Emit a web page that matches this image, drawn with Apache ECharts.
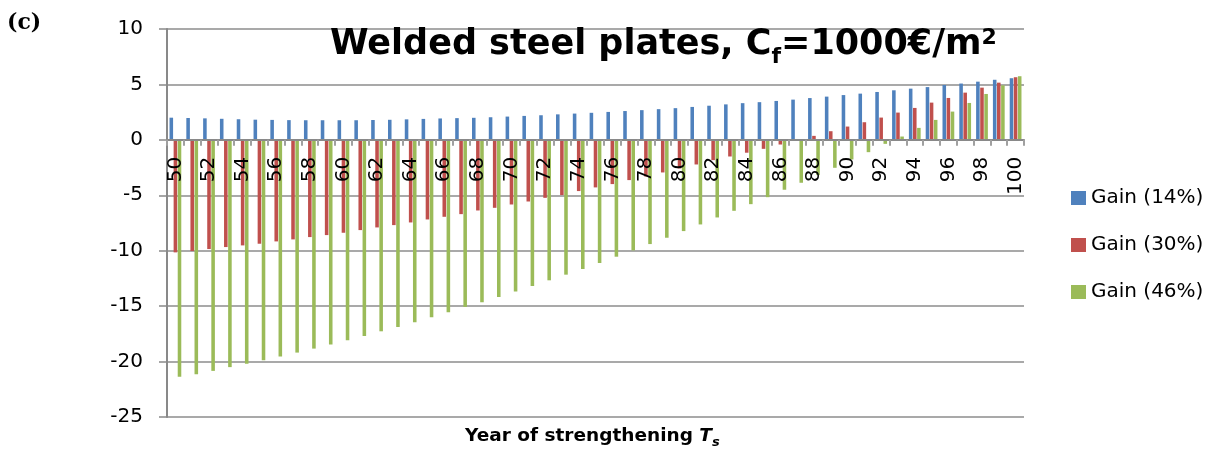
<!DOCTYPE html>
<html>
<head>
<meta charset="utf-8">
<script src="https://cdn.jsdelivr.net/npm/echarts@6/dist/echarts.min.js"></script>
<style>
html,body{margin:0;padding:0;background:#fff;}
#chart{width:1215px;height:457px;}
</style>
</head>
<body>
<div id="chart"></div>
<script>
const years = [];
for (let y = 50; y <= 100; y++) years.push(String(y));

const gain14 = [2.00,1.97,1.94,1.90,1.86,1.82,1.80,1.78,1.77,1.77,
  1.77,1.77,1.79,1.81,1.85,1.89,1.93,1.96,1.99,2.04,
  2.10,2.16,2.22,2.30,2.37,2.44,2.52,2.60,2.68,2.77,
  2.86,2.97,3.08,3.20,3.31,3.40,3.51,3.63,3.77,3.90,
  4.04,4.17,4.32,4.47,4.62,4.76,4.95,5.08,5.25,5.42,5.56];

const gain30 = [-10.15,-10.03,-9.85,-9.67,-9.52,-9.37,-9.16,-8.98,-8.77,-8.59,
  -8.38,-8.14,-7.90,-7.69,-7.45,-7.18,-6.94,-6.70,-6.37,-6.13,
  -5.83,-5.56,-5.23,-4.98,-4.62,-4.29,-3.99,-3.63,-3.30,-2.94,
  -2.58,-2.22,-1.83,-1.50,-1.16,-0.81,-0.42,-0.03,0.36,0.78,
  1.20,1.59,2.01,2.46,2.88,3.36,3.78,4.26,4.71,5.16,5.65];

const gain46 = [-21.38,-21.14,-20.84,-20.50,-20.20,-19.88,-19.55,-19.19,-18.83,-18.47,
  -18.08,-17.69,-17.27,-16.88,-16.46,-16.00,-15.56,-15.07,-14.65,-14.17,
  -13.69,-13.18,-12.67,-12.16,-11.65,-11.11,-10.54,-9.97,-9.40,-8.83,
  -8.23,-7.63,-7.00,-6.40,-5.80,-5.17,-4.50,-3.87,-3.18,-2.52,
  -1.77,-1.11,-0.36,0.30,1.08,1.80,2.55,3.33,4.14,4.92,5.74];

const seriesNames = ['Gain (14%)', 'Gain (30%)', 'Gain (46%)'];
const colors = ['#4F81BD', '#C0504D', '#9BBB59'];
const yTicks = { min: -25, max: 10, interval: 5 };

const FONT = 'DejaVu Sans';
const chart = echarts.init(document.getElementById('chart'));
const option = {
  animation: false,
  backgroundColor: '#fff',
  textStyle: { fontFamily: FONT },
  title: [
    {
      text: '{a|Welded steel plates, C}{b|f}{a|=1000€/m}{c|2}',
      left: 330, top: 27, padding: 0,
      textStyle: {
        rich: {
          a: { fontFamily: FONT, fontWeight: 'bold', fontSize: 35, color: '#000', lineHeight: 41, verticalAlign: 'bottom', padding: [0, 0, 6, 0] },
          b: { fontFamily: FONT, fontWeight: 'bold', fontSize: 22, color: '#000', verticalAlign: 'bottom' },
          c: { fontFamily: FONT, fontWeight: 'bold', fontSize: 22, color: '#000', verticalAlign: 'top' }
        }
      }
    },
    {
      text: '(c)', left: 7, top: 12, padding: 0,
      textStyle: { fontFamily: 'DejaVu Serif', fontWeight: 'bold', fontSize: 22, color: '#000' }
    },
    {
      text: '{a|Year of strengthening }{i|T}{s|s}',
      left: 465, top: 427, padding: 0,
      textStyle: {
        rich: {
          a: { fontFamily: FONT, fontWeight: 'bold', fontSize: 18.5, color: '#000', lineHeight: 22, verticalAlign: 'bottom', padding: [0, 0, 3, 0] },
          i: { fontFamily: FONT, fontWeight: 'bold', fontStyle: 'italic', fontSize: 18.5, color: '#000', lineHeight: 22, verticalAlign: 'bottom', padding: [0, 0, 3, 0] },
          s: { fontFamily: FONT, fontWeight: 'bold', fontStyle: 'italic', fontSize: 13, color: '#000', verticalAlign: 'bottom' }
        }
      }
    }
  ],
  legend: {
    orient: 'vertical',
    left: 1066, top: 183,
    icon: 'rect',
    itemWidth: 15, itemHeight: 14,
    itemGap: 27,
    textStyle: { fontFamily: FONT, fontSize: 20, color: '#000' },
    data: seriesNames
  },
  grid: { left: 167, right: 191, top: 29, bottom: 40, containLabel: false, outerBoundsMode: 'none' },
  xAxis: {
    type: 'category',
    data: years,
    offset: 0,
    z: 5,
    axisLine: { onZero: false, lineStyle: { color: '#898989', width: 2 } },
    axisTick: { show: true, interval: 0, length: 6, lineStyle: { color: '#a0a0a0', width: 2 } },
    axisLabel: { interval: 1, rotate: 90, margin: 17, fontFamily: FONT, fontSize: 20, color: '#000' },
    splitLine: { show: false }
  },
  yAxis: {
    type: 'value',
    min: yTicks.min, max: yTicks.max, interval: yTicks.interval,
    axisLine: { show: true, lineStyle: { color: '#898989', width: 2 } },
    axisTick: { show: true, length: 8, lineStyle: { color: '#898989', width: 1.5 } },
    axisLabel: { margin: 24, fontFamily: FONT, fontSize: 20, color: '#000' },
    splitLine: { show: true, lineStyle: { color: '#8c8c8c', width: 1.5 } }
  },
  series: [gain14, gain30, gain46].map((d, i) => ({
    name: seriesNames[i],
    type: 'bar',
    data: d,
    barGap: '15%',
    barCategoryGap: '30%',
    itemStyle: { color: colors[i] }
  }))
};
chart.setOption(option);
// move the category axis up to the value-axis zero line using the library's own scale
const yZero = chart.convertToPixel({ yAxisIndex: 0 }, 0);
const yMin = chart.convertToPixel({ yAxisIndex: 0 }, yTicks.min);
chart.setOption({ xAxis: { offset: -(yMin - yZero) } });
</script>
</body>
</html>
